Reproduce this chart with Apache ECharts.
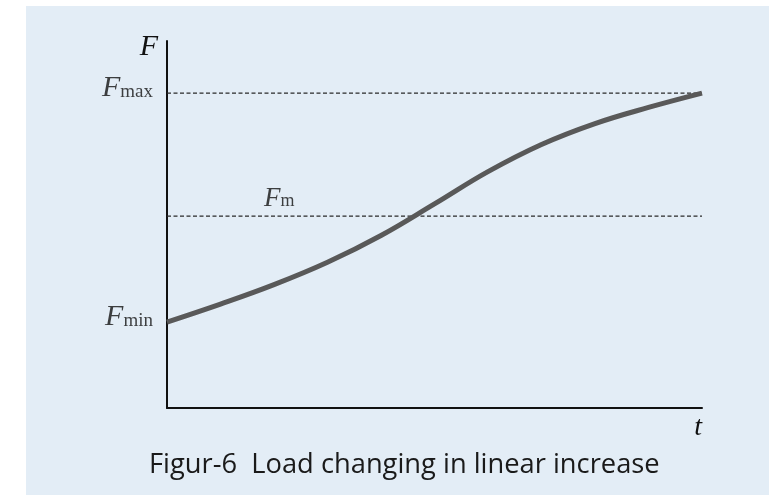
<!DOCTYPE html>
<html>
<head>
<meta charset="utf-8">
<script src="https://cdn.jsdelivr.net/npm/echarts@6/dist/echarts.min.js"></script>
<style>
  html, body { margin: 0; padding: 0; background: #fff; }
  #chart { width: 769px; height: 499px; }
</style>
</head>
<body>
<div id="chart"></div>
<script>
// load curve, t from 0 to 10, F in % of the axis height
var tValues = [0, 1, 2, 3, 4, 5, 6, 7, 8, 9, 10];
var fValues = [23.4, 28.3, 33.6, 39.7, 47.0, 55.6, 64.4, 71.8, 77.5, 81.9, 85.8];

// reference levels
var fMax = 85.8;
var fM = 52.3;
var fMin = 23.4;
var fmLabelT = 2.1;

var curve = tValues.map(function (t, i) { return [t, fValues[i]]; });

var mathFont = '"Liberation Serif", "DejaVu Serif", serif';

function richFor(big, small) {
    return {
        f: { fontFamily: mathFont, fontStyle: 'italic', fontSize: big, color: '#111', verticalAlign: 'bottom', lineHeight: 30 },
        s: { fontFamily: mathFont, fontSize: small, color: '#111', verticalAlign: 'bottom', lineHeight: 30, padding: [0, 0, 2, 0] }
    };
}

function dashLine(v) {
    return {
        type: 'line',
        data: [[0, v], [10, v]],
        symbol: 'none',
        silent: true,
        lineStyle: { color: '#2a2a2a', width: 1.2, type: [4, 2.5] },
        z: 1
    };
}

function levelLabel(t, v, sub, pos, dist, off, big, small) {
    return {
        type: 'scatter',
        data: [[t, v]],
        symbolSize: 0,
        silent: true,
        label: {
            show: true,
            position: pos,
            distance: dist,
            offset: off,
            formatter: '{f|F}{s|' + sub + '}',
            rich: richFor(big, small)
        }
    };
}

var myChart = echarts.init(document.getElementById('chart'));

var option = {
    backgroundColor: '#fff',
    animation: false,
    graphic: [{
        type: 'rect',
        left: 26, top: 6,
        shape: { width: 743, height: 489 },
        style: { fill: '#e3edf6' },
        z: -10,
        silent: true
    }],
    title: {
        text: 'Figur-6  Load changing in linear increase',
        left: 144,
        top: 447,
        textStyle: { fontFamily: '"Open Sans", sans-serif', fontWeight: 'normal', fontSize: 27.3, color: '#1a1a1a' }
    },
    grid: { left: 167, top: 41, right: 67, bottom: 91 },
    xAxis: {
        type: 'value',
        min: 0, max: 10,
        name: 't',
        nameLocation: 'end',
        nameGap: 0,
        nameTextStyle: {
            fontFamily: mathFont, fontStyle: 'italic', fontSize: 28, color: '#111',
            align: 'right', verticalAlign: 'top', padding: [6, 0, 0, 0]
        },
        axisLine: { lineStyle: { color: '#111', width: 2 } },
        axisTick: { show: false },
        axisLabel: { show: false },
        splitLine: { show: false }
    },
    yAxis: {
        type: 'value',
        min: 0, max: 100,
        name: 'F',
        nameLocation: 'end',
        nameGap: -21,
        nameTextStyle: {
            fontFamily: mathFont, fontStyle: 'italic', fontSize: 30, color: '#111',
            align: 'right', verticalAlign: 'bottom', padding: [0, 9, 0, 0]
        },
        axisLine: { lineStyle: { color: '#111', width: 2 } },
        axisTick: { show: false },
        axisLabel: { show: false },
        splitLine: { show: false }
    },
    series: [
        dashLine(fMax),
        dashLine(fM),
        {
            type: 'line',
            data: curve,
            smooth: 0.4,
            symbol: 'none',
            silent: true,
            lineStyle: { color: '#595959', width: 5, cap: 'butt' },
            z: 3
        },
        levelLabel(0, fMax, 'max', 'left', 14, [0, -5], 30, 19),
        levelLabel(0, fMin, 'min', 'left', 14, [0, -5], 30, 19),
        levelLabel(fmLabelT, fM, 'm', 'top', 4, [0, 0], 27, 18)
    ]
};

myChart.setOption(option);
</script>
</body>
</html>
